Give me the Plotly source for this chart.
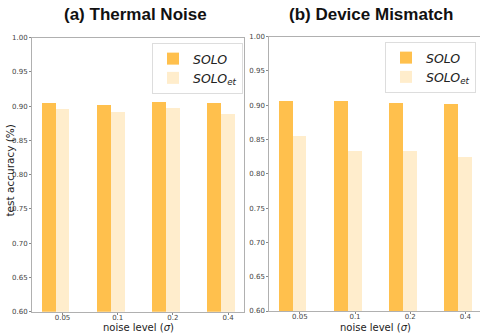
import plotly.graph_objects as go

noise_levels = ["0.05", "0.1", "0.2", "0.4"]
thermal_solo = [0.905, 0.902, 0.906, 0.905]
thermal_solo_et = [0.8965, 0.8925, 0.8975, 0.889]
mismatch_solo = [0.9065, 0.907, 0.9035, 0.902]
mismatch_solo_et = [0.856, 0.8335, 0.834, 0.8255]
y_ticks = [0.60, 0.65, 0.70, 0.75, 0.80, 0.85, 0.90, 0.95, 1.00]
x_title = "noise level (<i>σ</i>)"
y_title = "test accuracy (%)"

C_SOLO = "rgb(255,192,77)"
C_ET = "rgb(255,237,204)"
xpos = list(range(len(noise_levels)))

fig = go.Figure()
for i, (s, e) in enumerate([(thermal_solo, thermal_solo_et), (mismatch_solo, mismatch_solo_et)]):
    xa = "x" if i == 0 else "x2"
    ya = "y" if i == 0 else "y2"
    lg = "legend" if i == 0 else "legend2"
    fig.add_trace(go.Bar(x=xpos, y=s, base=0, width=0.25, offset=-0.375, marker_color=C_SOLO,
                         marker_line_width=0, name="<i>SOLO</i>", xaxis=xa, yaxis=ya, legend=lg))
    fig.add_trace(go.Bar(x=xpos, y=e, base=0, width=0.25, offset=-0.125, marker_color=C_ET,
                         marker_line_width=0, name="<i>SOLO<sub>et</sub></i>", xaxis=xa, yaxis=ya, legend=lg))

axis_common = dict(showline=True, linecolor="#b0b0b0", linewidth=1, mirror=True, ticks="outside",
                   ticklen=2, tickcolor="#888", tickfont=dict(family="DejaVu Sans", size=7, color="#444"),
                   showgrid=False, zeroline=False, automargin=False)
x_common = dict(axis_common, tickvals=xpos, ticktext=noise_levels, ticklabelstandoff=-3)
y_common = dict(axis_common, range=[0.6, 1.0], tickvals=y_ticks, tickformat=".2f")

legend_common = dict(xanchor="right", yanchor="top", bgcolor="white", bordercolor="#dddddd", borderwidth=1,
                     font=dict(family="DejaVu Sans", size=12.5, color="#222"), itemwidth=30, tracegroupgap=2)

title_font = dict(family="Liberation Sans", size=17, color="#111")
label_font = dict(family="DejaVu Sans", size=10, color="#222")

fig.update_layout(
    width=480, height=333, margin=dict(l=0, r=0, t=0, b=0, autoexpand=False),
    plot_bgcolor="white", paper_bgcolor="white", barmode="overlay", bargap=0,
    xaxis=dict(x_common, domain=[32 / 480, 244 / 480], range=[-0.553, 3.288], anchor="y"),
    xaxis2=dict(x_common, domain=[269.3 / 480, 1.0], range=[-0.553, 3.265], anchor="y2"),
    yaxis=dict(y_common, domain=[1 - 311.7 / 333, 1 - 37.5 / 333], anchor="x"),
    yaxis2=dict(y_common, domain=[1 - 311 / 333, 1 - 36.5 / 333], anchor="x2"),
    legend=dict(legend_common, x=243 / 480, y=1 - 43 / 333),
    legend2=dict(legend_common, x=476 / 480, y=1 - 42 / 333),
    annotations=[
        dict(text="<b>(a) Thermal Noise</b>", x=135 / 480, y=1 - 15 / 333, xref="paper", yref="paper",
             showarrow=False, font=title_font, xanchor="center", yanchor="middle"),
        dict(text="<b>(b) Device Mismatch</b>", x=371 / 480, y=1 - 15 / 333, xref="paper", yref="paper",
             showarrow=False, font=title_font, xanchor="center", yanchor="middle"),
        dict(text=x_title, x=138.5 / 480, y=1 - 327.5 / 333, xref="paper", yref="paper",
             showarrow=False, font=label_font, xanchor="center", yanchor="middle"),
        dict(text=x_title, x=375 / 480, y=1 - 327.5 / 333, xref="paper", yref="paper",
             showarrow=False, font=label_font, xanchor="center", yanchor="middle"),
        dict(text=y_title, x=9.5 / 480, y=1 - 171 / 333, xref="paper", yref="paper", textangle=-90,
             showarrow=False, font=dict(label_font, size=10.5), xanchor="center", yanchor="middle"),
    ],
)

fig.write_html("out.html")
